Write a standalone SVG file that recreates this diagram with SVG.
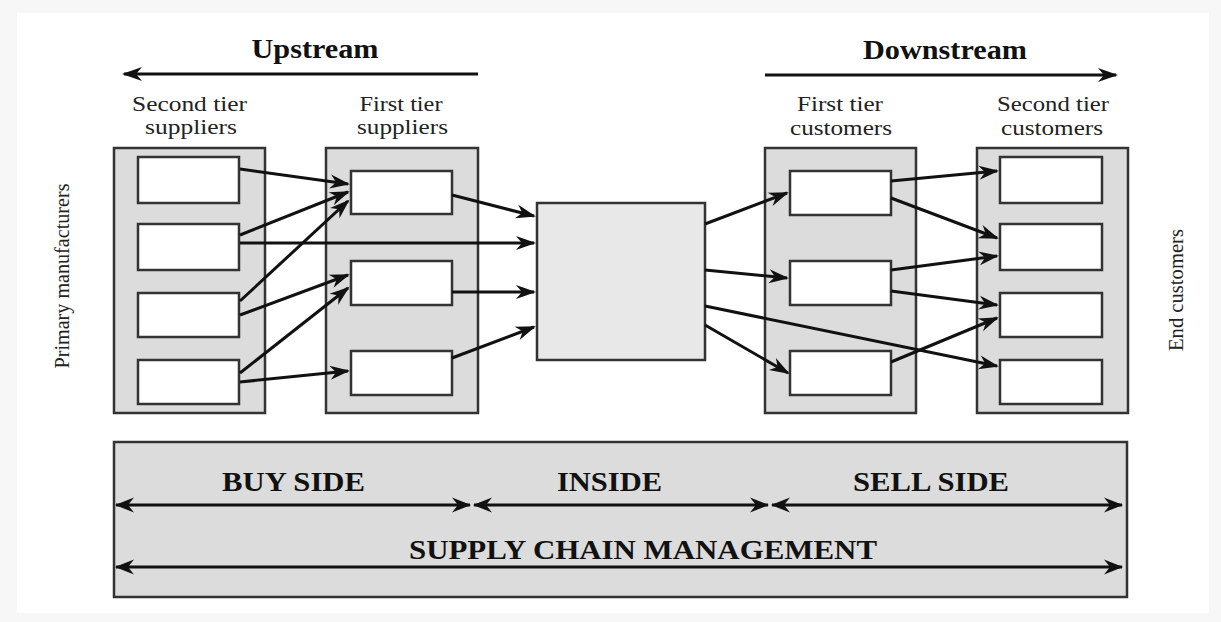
<svg xmlns="http://www.w3.org/2000/svg" width="1221" height="622" viewBox="0 0 1221 622">
  <style>
    .outer { fill: #dcdcdc; stroke: #333; stroke-width: 2.5; }
    .inner { fill: #ffffff; stroke: #333; stroke-width: 2.5; }
    .center { fill: #e8e8e8; stroke: #333; stroke-width: 2.5; }
    .conn { stroke: #111; stroke-width: 3; fill: none; marker-end: url(#ah); }
    .dbl { stroke: #111; stroke-width: 3; fill: none; marker-end: url(#ah2); marker-start: url(#ah2); }
    text { font-family: 'Liberation Serif', 'Times New Roman', Times, serif; }
    .lbl { font-size: 21px; fill: #222; text-anchor: middle; }
    .hdr { font-size: 27px; font-weight: bold; fill: #111; text-anchor: middle; }
    .side { font-size: 27px; font-weight: bold; fill: #111; text-anchor: middle; }
    .rot { font-size: 21px; fill: #222; text-anchor: middle; }
  </style>
  <defs>
    <marker id="ah" markerUnits="userSpaceOnUse" viewBox="-19 -8 22 16" markerWidth="22" markerHeight="16" refX="0" refY="0" orient="auto">
      <path d="M2,0 L-18,-7 L-12,0 L-18,7 Z" fill="#111"/>
    </marker>
    <marker id="ah2" markerUnits="userSpaceOnUse" viewBox="-19 -8 22 16" markerWidth="22" markerHeight="16" refX="0" refY="0" orient="auto-start-reverse">
      <path d="M1,0 L-18,-7.5 L-12,0 L-18,7.5 Z" fill="#111"/>
    </marker>
  </defs>

  <rect x="0" y="0" width="1221" height="622" fill="#f7f7f7"/>
  <rect x="17" y="13" width="1192" height="600" fill="#ffffff"/>

  <g id="upstream">
    <text class="hdr" x="315" y="58" textLength="127" lengthAdjust="spacingAndGlyphs">Upstream</text>
    <line x1="478" y1="74" x2="124" y2="74" class="conn"/>
  </g>
  <g id="downstream">
    <text class="hdr" x="945" y="59" textLength="164" lengthAdjust="spacingAndGlyphs">Downstream</text>
    <line x1="765" y1="75" x2="1116" y2="75" class="conn"/>
  </g>

  <g id="primary-manufacturers">
    <text class="rot" transform="translate(69,276) rotate(-90)" x="0" y="0" textLength="185" lengthAdjust="spacingAndGlyphs">Primary manufacturers</text>
  </g>
  <g id="end-customers">
    <text class="rot" transform="translate(1183,290) rotate(-90)" x="0" y="0" textLength="122" lengthAdjust="spacingAndGlyphs">End customers</text>
  </g>

  <g id="second-tier-suppliers">
    <text class="lbl" x="189.5" y="111" textLength="115" lengthAdjust="spacingAndGlyphs">Second tier</text>
    <text class="lbl" x="191" y="134" textLength="92" lengthAdjust="spacingAndGlyphs">suppliers</text>
    <rect class="outer" x="114" y="148" width="151" height="265"/>
    <rect class="inner" x="138" y="157" width="101" height="46"/>
    <rect class="inner" x="138" y="224" width="101" height="46"/>
    <rect class="inner" x="138" y="293" width="101" height="44"/>
    <rect class="inner" x="138" y="360" width="101" height="44"/>
  </g>

  <g id="first-tier-suppliers">
    <text class="lbl" x="401" y="111" textLength="83" lengthAdjust="spacingAndGlyphs">First tier</text>
    <text class="lbl" x="402.5" y="134" textLength="91" lengthAdjust="spacingAndGlyphs">suppliers</text>
    <rect class="outer" x="326" y="148" width="152" height="265"/>
    <rect class="inner" x="351" y="171" width="101" height="43"/>
    <rect class="inner" x="351" y="261" width="101" height="44"/>
    <rect class="inner" x="351" y="351" width="101" height="44"/>
  </g>

  <g id="center-node">
    <rect class="center" x="537" y="203" width="168" height="157"/>
  </g>

  <g id="first-tier-customers">
    <text class="lbl" x="840" y="111" textLength="86" lengthAdjust="spacingAndGlyphs">First tier</text>
    <text class="lbl" x="841" y="135" textLength="102" lengthAdjust="spacingAndGlyphs">customers</text>
    <rect class="outer" x="765" y="148" width="151" height="265"/>
    <rect class="inner" x="790" y="171" width="101" height="44"/>
    <rect class="inner" x="790" y="261" width="101" height="44"/>
    <rect class="inner" x="790" y="351" width="101" height="44"/>
  </g>

  <g id="second-tier-customers">
    <text class="lbl" x="1053" y="111" textLength="112" lengthAdjust="spacingAndGlyphs">Second tier</text>
    <text class="lbl" x="1052" y="135" textLength="102" lengthAdjust="spacingAndGlyphs">customers</text>
    <rect class="outer" x="977" y="148" width="151" height="265"/>
    <rect class="inner" x="1000" y="157" width="102" height="46"/>
    <rect class="inner" x="1000" y="224" width="102" height="46"/>
    <rect class="inner" x="1000" y="293" width="102" height="44"/>
    <rect class="inner" x="1000" y="360" width="102" height="44"/>
  </g>

  <g id="connectors">
    <line class="conn" x1="240" y1="169" x2="348" y2="184"/>
    <line class="conn" x1="240" y1="235" x2="348" y2="192"/>
    <line class="conn" x1="240" y1="243" x2="534" y2="243"/>
    <line class="conn" x1="240" y1="301" x2="348" y2="201"/>
    <line class="conn" x1="240" y1="315" x2="348" y2="275"/>
    <line class="conn" x1="240" y1="373" x2="348" y2="288"/>
    <line class="conn" x1="240" y1="382" x2="348" y2="371"/>
    <line class="conn" x1="452" y1="195" x2="534" y2="216"/>
    <line class="conn" x1="452" y1="292" x2="534" y2="292"/>
    <line class="conn" x1="452" y1="358" x2="534" y2="327"/>
    <line class="conn" x1="705" y1="224" x2="787" y2="193"/>
    <line class="conn" x1="705" y1="270" x2="787" y2="278"/>
    <line class="conn" x1="705" y1="306" x2="997" y2="366"/>
    <line class="conn" x1="705" y1="325" x2="788" y2="373"/>
    <line class="conn" x1="891" y1="181" x2="997" y2="171"/>
    <line class="conn" x1="891" y1="198" x2="997" y2="238"/>
    <line class="conn" x1="891" y1="270" x2="997" y2="256"/>
    <line class="conn" x1="891" y1="291" x2="997" y2="305"/>
    <line class="conn" x1="891" y1="362" x2="997" y2="318"/>
  </g>

  <g id="scm-panel">
    <rect class="outer" x="114" y="442" width="1013" height="155"/>
    <text class="side" x="293.5" y="491" textLength="143" lengthAdjust="spacingAndGlyphs">BUY SIDE</text>
    <text class="side" x="609.5" y="491" textLength="105" lengthAdjust="spacingAndGlyphs">INSIDE</text>
    <text class="side" x="931" y="491" textLength="156" lengthAdjust="spacingAndGlyphs">SELL SIDE</text>
    <text class="side" x="643" y="559" textLength="468" lengthAdjust="spacingAndGlyphs">SUPPLY CHAIN MANAGEMENT</text>
    <line class="dbl" x1="116" y1="505" x2="470" y2="505"/>
    <line class="dbl" x1="474" y1="505" x2="768" y2="505"/>
    <line class="dbl" x1="772" y1="505" x2="1122" y2="505"/>
    <line class="dbl" x1="116" y1="567" x2="1122" y2="567"/>
  </g>
</svg>
